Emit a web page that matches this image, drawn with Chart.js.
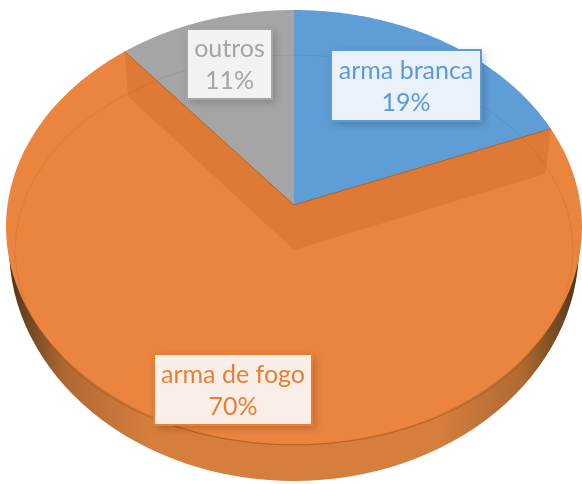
<!DOCTYPE html>
<html lang="pt">
<head>
    <meta charset="UTF-8">
    <title>Pizza 3D</title>
    <script src="https://cdn.jsdelivr.net/npm/chart.js"></script>
    <style>
        html, body { margin: 0; padding: 0; background: #ffffff; }
        canvas { display: block; }
    </style>
</head>
<body>
    <canvas id="myChart" width="582" height="484"></canvas>
    <script>
        const categories = ['arma branca', 'arma de fogo', 'outros'];
        const percentValues = [19, 70, 11];
        const sliceColors = ['#5F9DD6', '#EB843F', '#A5A5A5'];
        const textColors = ['#5B9BD5', '#ED7D31', '#A5A5A5'];
        const labelFills = ['#EBF1F9', '#FAEEE8', '#F2F2F2'];

        // label boxes: left, top, width, height
        const labelBoxes = [[331, 50, 150, 71], [154, 354, 158, 71], [187, 29, 85, 70]];

        // ellipse of the pie rim and the tilt of the 3D view
        const rim = { x: 294, y: 227, rx: 288, ry: 217 };
        const tilt = -22 / 217;
        const topFace = { x: 294, y: 250, rx: 279, ry: 195 };
        const wall = { x: 294, y: 247, rx: 285, ry: 234 };
        const wallDrop = 45;
        const wallInset = 0.98;

        // unit circle -> rim ellipse, with the perspective of the tilted pie
        function project(x, y) {
            const w = tilt * y + 1;
            return [
                rim.x + rim.rx * x * Math.sqrt(1 - tilt * tilt) / w,
                rim.y + rim.ry * (y + tilt) / w
            ];
        }

        function rimPoint(angle) {
            return project(Math.cos(angle), Math.sin(angle));
        }

        function slicePath(ctx, arc) {
            const steps = 120;
            const apex = project(0, 0);
            ctx.beginPath();
            ctx.moveTo(apex[0], apex[1]);
            for (let i = 0; i <= steps; i++) {
                const p = rimPoint(arc.startAngle + (arc.endAngle - arc.startAngle) * i / steps);
                ctx.lineTo(p[0], p[1]);
            }
            ctx.closePath();
        }

        function drawSideWall(ctx) {
            const g = ctx.createLinearGradient(wall.x - wall.rx, 0, wall.x + wall.rx, 0);
            g.addColorStop(0, '#4f3318');
            g.addColorStop(0.03, '#6e4520');
            g.addColorStop(0.1, '#b06a32');
            g.addColorStop(0.25, '#d67e3e');
            g.addColorStop(0.75, '#d67e3e');
            g.addColorStop(0.9, '#b06a32');
            g.addColorStop(0.97, '#6e4520');
            g.addColorStop(1, '#4f3318');
            ctx.fillStyle = g;
            ctx.beginPath();
            ctx.ellipse(wall.x, wall.y, wall.rx, wall.ry, 0, 0, Math.PI * 2);
            ctx.fill();
        }

        // the darker inner faces of the big slice, under the two cut edges
        function drawInnerWall(ctx, angle) {
            const apex = project(0, 0);
            const p = rimPoint(angle);
            ctx.beginPath();
            ctx.moveTo(apex[0], apex[1]);
            ctx.lineTo(p[0], p[1]);
            ctx.lineTo(apex[0] + (p[0] - apex[0]) * wallInset, p[1] + wallDrop);
            ctx.lineTo(apex[0], apex[1] + wallDrop);
            ctx.closePath();
            ctx.fillStyle = 'rgba(190, 95, 30, 0.27)';
            ctx.fill();
        }

        const pie3d = {
            id: 'pie3d',
            beforeDatasetDraw(chart) {
                const ctx = chart.ctx;
                const arcs = chart.getDatasetMeta(0).data;
                const order = [2, 0, 1];

                ctx.save();
                drawSideWall(ctx);

                ctx.lineWidth = 1;
                order.forEach(function(i) {
                    slicePath(ctx, arcs[i]);
                    ctx.fillStyle = sliceColors[i];
                    ctx.fill();
                });

                // cut edges
                drawInnerWall(ctx, arcs[1].startAngle);
                drawInnerWall(ctx, arcs[1].endAngle);

                // thin line of the top face, stronger along the front
                ctx.beginPath();
                ctx.ellipse(topFace.x, topFace.y, topFace.rx, topFace.ry, 0, 0, Math.PI * 2);
                ctx.strokeStyle = 'rgba(90, 60, 40, 0.13)';
                ctx.stroke();
                ctx.beginPath();
                ctx.ellipse(topFace.x, topFace.y, topFace.rx, topFace.ry, 0, 0.45, Math.PI - 0.45);
                ctx.strokeStyle = 'rgba(185, 85, 20, 0.7)';
                ctx.stroke();

                [arcs[1].startAngle, arcs[1].endAngle].forEach(function(a) {
                    const apex = project(0, 0);
                    const p = rimPoint(a);
                    ctx.beginPath();
                    ctx.moveTo(apex[0], apex[1]);
                    ctx.lineTo(p[0], p[1]);
                    ctx.strokeStyle = 'rgba(170, 85, 25, 0.7)';
                    ctx.stroke();
                });
                ctx.restore();
                return false;
            },
            afterDatasetsDraw(chart) {
                const ctx = chart.ctx;
                ctx.save();
                categories.forEach(function(name, i) {
                    const b = labelBoxes[i];
                    ctx.shadowColor = 'rgba(0, 0, 0, 0.22)';
                    ctx.shadowBlur = 8;
                    ctx.shadowOffsetX = 3;
                    ctx.shadowOffsetY = 3;
                    ctx.fillStyle = labelFills[i];
                    ctx.fillRect(b[0], b[1], b[2], b[3]);
                    ctx.shadowColor = 'transparent';
                    ctx.strokeStyle = textColors[i];
                    ctx.lineWidth = 2;
                    ctx.strokeRect(b[0], b[1], b[2], b[3]);

                    ctx.fillStyle = textColors[i];
                    ctx.font = '25px Lato, sans-serif';
                    ctx.textAlign = 'center';
                    ctx.textBaseline = 'middle';
                    const cx = b[0] + b[2] / 2;
                    const cy = b[1] + b[3] / 2;
                    ctx.fillText(name, cx, cy - 15);
                    ctx.fillText(percentValues[i] + '%', cx, cy + 17);
                });
                ctx.restore();
            }
        };

        new Chart(document.getElementById('myChart').getContext('2d'), {
            type: 'pie',
            data: {
                labels: categories,
                datasets: [{ data: percentValues, backgroundColor: sliceColors, borderWidth: 0 }]
            },
            options: {
                responsive: false,
                animation: false,
                plugins: { legend: { display: false }, tooltip: { enabled: false } }
            },
            plugins: [pie3d]
        });
    </script>
</body>
</html>
